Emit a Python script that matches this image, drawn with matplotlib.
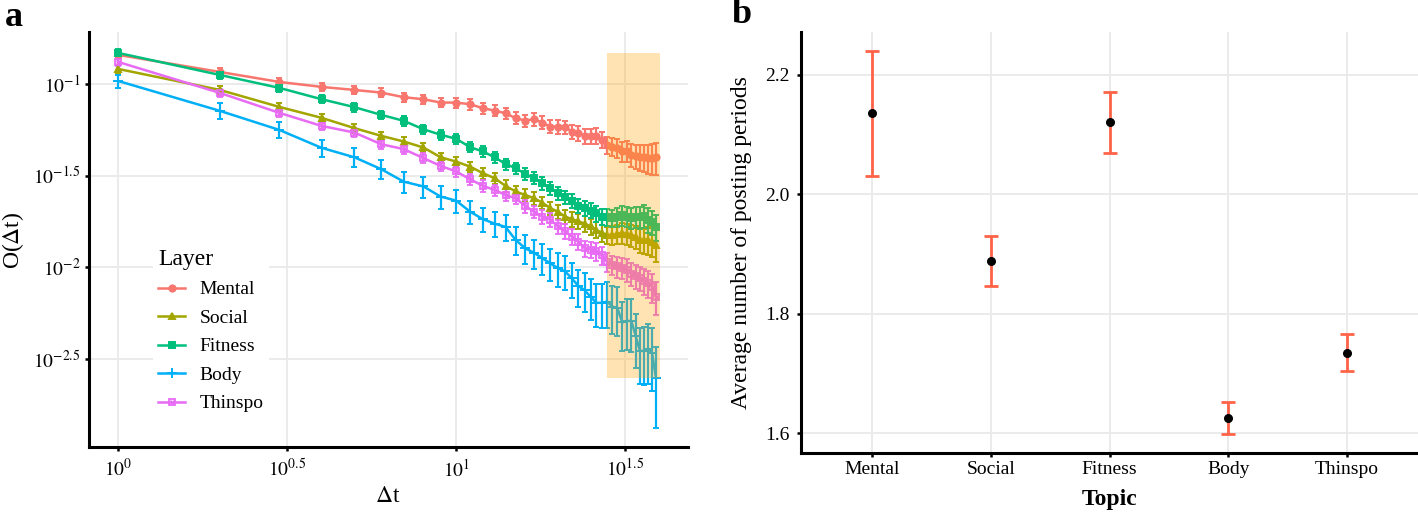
import numpy as np
import matplotlib
matplotlib.use("Agg")
import matplotlib.pyplot as plt
from matplotlib.lines import Line2D

plt.rcParams['font.family'] = ['Liberation Serif', 'DejaVu Serif']
plt.rcParams['mathtext.fontset'] = 'stix'

# ---- panel a data: O(dt) per layer, dt = 1..39 ----
dt = np.arange(1, 40)

mental = [0.144, 0.1162, 0.1025, 0.0963, 0.0927, 0.0897, 0.0846, 0.0825, 0.0791, 0.0791,
          0.0775, 0.0737, 0.0715, 0.0692, 0.0650, 0.0631, 0.0642, 0.0615, 0.0585, 0.0585,
          0.0581, 0.0550, 0.0539, 0.0521, 0.0521, 0.0521, 0.0495, 0.0465, 0.0455, 0.0446,
          0.0428, 0.0433, 0.0410, 0.0405, 0.0401, 0.0398, 0.0394, 0.0394, 0.0398]
social = [0.1207, 0.0927, 0.0749, 0.0653, 0.0574, 0.0521, 0.0485, 0.0450, 0.0398, 0.0377,
          0.0354, 0.0326, 0.0306, 0.0278, 0.0259, 0.0248, 0.0238, 0.0225, 0.0210, 0.0201,
          0.0189, 0.0183, 0.0178, 0.0173, 0.0167, 0.0160, 0.0154, 0.0150, 0.0150, 0.0152,
          0.0154, 0.0152, 0.0150, 0.0147, 0.0141, 0.0140, 0.0141, 0.0138, 0.0133]
fitness = [0.1476, 0.1119, 0.0951, 0.0825, 0.0747, 0.0678, 0.0629, 0.0566, 0.0528, 0.0502,
           0.0452, 0.0428, 0.0398, 0.0366, 0.0347, 0.0323, 0.0306, 0.0288, 0.0270, 0.0254,
           0.0241, 0.0231, 0.0216, 0.0210, 0.0204, 0.0197, 0.0189, 0.0188, 0.0186, 0.0188,
           0.0192, 0.0189, 0.0186, 0.0188, 0.0187, 0.0191, 0.0182, 0.0177, 0.0166]
body = [0.1038, 0.0713, 0.0561, 0.0448, 0.0398, 0.0343, 0.0293, 0.0276, 0.0243, 0.0231,
        0.0201, 0.0183, 0.0173, 0.0166, 0.0141, 0.0127, 0.0120, 0.0112, 0.0105, 0.0099,
        0.0095, 0.0087, 0.0079, 0.0075, 0.0069, 0.0064, 0.0064, 0.0065, 0.0061, 0.0060,
        0.0050, 0.0051, 0.0051, 0.0042, 0.0035, 0.0035, 0.0036, 0.0034, 0.0025]
thinspo = [0.1318, 0.0893, 0.0695, 0.0590, 0.0543, 0.0469, 0.0441, 0.0394, 0.0357, 0.0333,
           0.0302, 0.0278, 0.0264, 0.0248, 0.0238, 0.0216, 0.0201, 0.0189, 0.0182, 0.0167,
           0.0157, 0.0147, 0.0138, 0.0127, 0.0125, 0.0122, 0.0116, 0.0107, 0.0103, 0.0101,
           0.0099, 0.0097, 0.0092, 0.0090, 0.0087, 0.0084, 0.0082, 0.0078, 0.0069]

# relative standard errors (se / mean)
mental_rse = [0.05, 0.05, 0.05, 0.055, 0.055, 0.06, 0.06, 0.06, 0.06, 0.065, 0.065, 0.065, 0.07,
              0.07, 0.075, 0.075, 0.08, 0.08, 0.08, 0.085, 0.085, 0.09, 0.09, 0.095, 0.095, 0.10,
              0.10, 0.11, 0.11, 0.12, 0.12, 0.13, 0.14, 0.15, 0.16, 0.17, 0.18, 0.19, 0.20]
social_rse = [0.05, 0.05, 0.05, 0.05, 0.055, 0.055, 0.06, 0.06, 0.06, 0.065, 0.065, 0.07, 0.07,
              0.07, 0.075, 0.075, 0.08, 0.08, 0.085, 0.085, 0.09, 0.09, 0.095, 0.095, 0.10, 0.10,
              0.11, 0.11, 0.12, 0.12, 0.13, 0.13, 0.14, 0.14, 0.15, 0.16, 0.17, 0.18, 0.20]
fitness_rse = [0.05, 0.05, 0.05, 0.05, 0.055, 0.055, 0.06, 0.06, 0.06, 0.065, 0.065, 0.065, 0.07,
               0.07, 0.07, 0.075, 0.075, 0.08, 0.08, 0.085, 0.085, 0.09, 0.09, 0.095, 0.095, 0.10,
               0.10, 0.11, 0.11, 0.12, 0.12, 0.125, 0.13, 0.13, 0.14, 0.14, 0.15, 0.15, 0.16]
body_rse = [0.08, 0.10, 0.10, 0.11, 0.12, 0.12, 0.13, 0.13, 0.14, 0.14, 0.14, 0.15, 0.15, 0.16,
            0.17, 0.18, 0.18, 0.19, 0.20, 0.21, 0.21, 0.22, 0.23, 0.24, 0.25, 0.26, 0.27, 0.28,
            0.29, 0.30, 0.30, 0.31, 0.32, 0.33, 0.34, 0.35, 0.36, 0.38, 0.47]
thinspo_rse = [0.05, 0.05, 0.05, 0.055, 0.055, 0.06, 0.06, 0.06, 0.065, 0.065, 0.07, 0.07, 0.07,
               0.075, 0.075, 0.08, 0.08, 0.085, 0.085, 0.09, 0.09, 0.095, 0.095, 0.10, 0.10, 0.11,
               0.11, 0.12, 0.12, 0.13, 0.13, 0.14, 0.14, 0.15, 0.15, 0.16, 0.17, 0.18, 0.20]

layers = ['Mental', 'Social', 'Fitness', 'Body', 'Thinspo']
layer_means = [mental, social, fitness, body, thinspo]
layer_rse = [mental_rse, social_rse, fitness_rse, body_rse, thinspo_rse]
layer_colors = ['#F8766D', '#A3A500', '#00BF7D', '#00B0F6', '#E76BF3']
layer_markers = ['o', '^', 's', '+', 's']

# highlighted window
shade_x = [28, 40]

# ---- panel b data ----
topics = ['Mental', 'Social', 'Fitness', 'Body', 'Thinspo']
avg_periods = [2.136, 1.889, 2.121, 1.626, 1.735]
ci_low = [2.031, 1.847, 2.070, 1.599, 1.704]
ci_high = [2.241, 1.931, 2.171, 1.652, 1.766]

fig = plt.figure(figsize=(14.18, 5.13), dpi=100)
ax1 = fig.add_axes([89 / 1418, 66 / 513, 599 / 1418, 415 / 513])
ax2 = fig.add_axes([801 / 1418, 60 / 513, 617 / 1418, 421 / 513])

grid_col = '#EBEBEB'


def style_axes(ax):
    for s in ['top', 'right']:
        ax.spines[s].set_visible(False)
    for s in ['left', 'bottom']:
        ax.spines[s].set_linewidth(2.2)
        ax.spines[s].set_color('black')
    ax.tick_params(which='major', length=3, width=1.8, color='black', labelsize=14)
    ax.tick_params(which='minor', length=0)
    ax.grid(True, which='major', color=grid_col, lw=1.4)
    ax.set_axisbelow(True)


# ---- panel a ----
style_axes(ax1)
ax1.set_xscale('log')
ax1.set_yscale('log')

handles = []
for name, m, r, c, mk in zip(layers, layer_means, layer_rse, layer_colors, layer_markers):
    m = np.array(m)
    se = m * np.array(r)
    if name == 'Thinspo':
        ax1.errorbar(dt, m, yerr=se, color=c, lw=1.8, elinewidth=1.6, capsize=2.5, capthick=1.6,
                     marker='s', ms=5, mfc='none', mec=c, mew=1.3, zorder=3)
        ax1.plot(dt, m, ls='none', marker='x', ms=3.5, color=c, mew=1.0, zorder=3)
        h = (Line2D([], [], color=c, lw=1.8, marker='s', ms=5, mfc='none', mec=c, mew=1.3),
             Line2D([], [], ls='none', marker='x', ms=3.5, color=c, mew=1.0))
    else:
        ms = 7 if mk == '+' else 4.5
        ax1.errorbar(dt, m, yerr=se, color=c, lw=1.8, elinewidth=1.6, capsize=2.5, capthick=1.6,
                     marker=mk, ms=ms, mew=1.4, zorder=3)
        h = Line2D([], [], color=c, lw=1.8, marker=mk, ms=ms, mew=1.4)
    handles.append(h)

all_means = np.concatenate([np.array(v) for v in layer_means])
ax1.fill_between(shade_x, all_means.min(), all_means.max(), color='#FFA500', alpha=0.3,
                 lw=0, zorder=4)

ax1.set_xlim(10 ** -0.086, 10 ** 1.686)
ax1.set_ylim(10 ** -2.98, 10 ** -0.717)
ax1.set_xticks([10 ** 0, 10 ** 0.5, 10 ** 1, 10 ** 1.5])
ax1.set_xticklabels([r'$10^{0}$', r'$10^{0.5}$', r'$10^{1}$', r'$10^{1.5}$'])
ax1.set_yticks([10 ** -1, 10 ** -1.5, 10 ** -2, 10 ** -2.5])
ax1.set_yticklabels([r'$10^{-1}$', r'$10^{-1.5}$', r'$10^{-2}$', r'$10^{-2.5}$'])
ax1.xaxis.set_minor_locator(matplotlib.ticker.NullLocator())
ax1.yaxis.set_minor_locator(matplotlib.ticker.NullLocator())
ax1.tick_params(axis='x', pad=5)
ax1.tick_params(axis='y', pad=3)

leg = ax1.legend(handles, layers, title='Layer', loc='upper left',
                 bbox_to_anchor=(0.09, 0.515), frameon=True, facecolor='white',
                 edgecolor='none', framealpha=1, fontsize=14, title_fontsize=17,
                 handlelength=1.35, handletextpad=0.75, labelspacing=0.56,
                 borderpad=0.3, alignment='left', fancybox=False)
leg.set_zorder(5)

# ---- panel b ----
style_axes(ax2)
xpos = np.arange(1, len(topics) + 1)
yerr = [np.array(avg_periods) - np.array(ci_low), np.array(ci_high) - np.array(avg_periods)]
ax2.errorbar(xpos, avg_periods, yerr=yerr, fmt='none', ecolor='#FF6347', elinewidth=2,
             capsize=5, capthick=2, zorder=3)
ax2.scatter(xpos, avg_periods, s=30, color='black', zorder=4)
ax2.set_xlim(0.4, 5.6)
ax2.set_ylim(1.567, 2.272)
ax2.set_xticks(xpos)
ax2.set_xticklabels(topics)
ax2.set_yticks([1.6, 1.8, 2.0, 2.2])
ax2.set_yticklabels(['1.6', '1.8', '2.0', '2.2'])
ax2.tick_params(axis='x', pad=3)
ax2.tick_params(axis='y', pad=5)

# ---- labels ----
fig.text(388 / 1418, 1 - 497 / 513, r'$\Delta$t', ha='center', va='center', fontsize=17)
fig.text(13 / 1418, 1 - 240 / 513, r'O($\Delta$t)', ha='center', va='center', fontsize=17,
         rotation=90)
fig.text(1109.5 / 1418, 1 - 500 / 513, 'Topic', ha='center', va='center', fontsize=17,
         fontweight='bold')
fig.text(742 / 1418, 1 - 242.5 / 513, 'Average number of posting periods', ha='center',
         va='center', fontsize=17, rotation=90)
fig.text(14 / 1418, 1 - 17 / 513, 'a', ha='center', va='center', fontsize=26, fontweight='bold')
fig.text(742 / 1418, 1 - 15 / 513, 'b', ha='center', va='center', fontsize=26, fontweight='bold')

fig.savefig('out.png', dpi=100)
